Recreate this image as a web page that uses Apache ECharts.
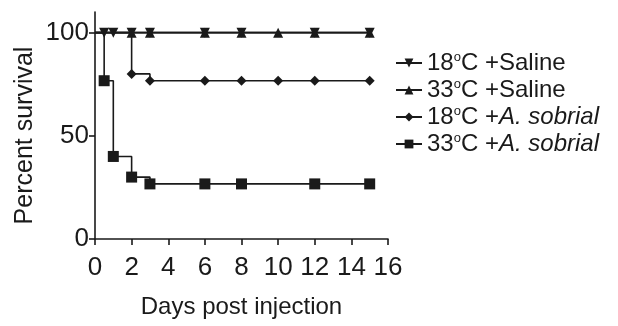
<!DOCTYPE html>
<html>
<head>
<meta charset="utf-8">
<script src="https://cdn.jsdelivr.net/npm/echarts@6/dist/echarts.min.js"></script>
<style>
  html, body { margin: 0; padding: 0; background: #fff; }
  #surv { width: 618px; height: 326px; }
</style>
</head>
<body>
<div id="surv"></div>
<script>
// survival data (step curves)
var xTicks = [0, 2, 4, 6, 8, 10, 12, 14, 16]
var yTicks = [0, 50, 100]

var days18Saline = [0, 0.5, 1, 2, 3, 6, 8, 12, 15]
var surv18Saline = [100, 100, 100, 100, 100, 100, 100, 100, 100]

var days33Saline = [0, 2, 3, 6, 8, 10, 12, 15]
var surv33Saline = [100, 100, 100, 100, 100, 100, 100, 100]

var days18Sob = [0, 2, 3, 6, 8, 10, 12, 15]
var surv18Sob = [100, 80, 76.7, 76.7, 76.7, 76.7, 76.7, 76.7]

var days33Sob = [0, 0.5, 1, 2, 3, 6, 8, 12, 15]
var surv33Sob = [100, 76.7, 40, 30, 26.7, 26.7, 26.7, 26.7, 26.7]

var names = ['18C Saline', '33C Saline', '18C sobrial', '33C sobrial']
var legendText = {
  '18C Saline': '18{sup|o}C +Saline',
  '33C Saline': '33{sup|o}C +Saline',
  '18C sobrial': '18{sup|o}C +{it|A. sobrial}',
  '33C sobrial': '33{sup|o}C +{it|A. sobrial}'
}

var FONT = "'Liberation Sans Narrow', 'Liberation Sans', Arial, sans-serif"
var INK = '#1a1a1a'

// first point (day 0) is only the start of the curve, no marker
function pts(days, vals) {
  return days.map(function(d, i) {
    if (i === 0) return { value: [d, vals[i]], symbol: 'none' }
    return [d, vals[i]]
  })
}

function curve(name, days, vals, symbol, size, rotate) {
  return {
    name: name,
    type: 'line',
    step: 'end',
    symbol: symbol,
    symbolSize: size,
    symbolRotate: rotate || 0,
    showAllSymbol: true,
    lineStyle: { color: INK, width: 1.6 },
    itemStyle: { color: INK },
    emphasis: { disabled: true },
    data: pts(days, vals)
  }
}

var myChart = echarts.init(document.getElementById('surv'))
myChart.setOption({
  animation: false,
  textStyle: { fontFamily: FONT, color: INK },
  grid: { left: 95, right: 230, top: 12, bottom: 87 },
  legend: {
    orient: 'vertical',
    left: 390,
    top: 46,
    itemGap: 3,
    itemWidth: 26,
    itemHeight: 11,
    data: names,
    formatter: function(name) {
      return legendText[name]
    },
    textStyle: {
      fontFamily: FONT,
      fontSize: 24,
      color: INK,
      rich: {
        sup: { fontSize: 13, fontFamily: FONT, color: INK, verticalAlign: 'bottom', padding: [0, 0, 11, 0] },
        it: { fontSize: 24, fontFamily: FONT, color: INK, fontStyle: 'italic' }
      }
    }
  },
  xAxis: {
    type: 'value',
    min: 0,
    max: 16,
    interval: 2,
    name: 'Days post injection',
    nameLocation: 'middle',
    nameGap: 56,
    nameTextStyle: { fontSize: 24, color: INK, fontFamily: FONT },
    splitLine: { show: false },
    axisLine: { lineStyle: { color: INK, width: 1.6 } },
    axisTick: { length: 6, lineStyle: { color: INK, width: 1.6 } },
    axisLabel: { fontSize: 26, color: INK, margin: 16, fontFamily: FONT, customValues: xTicks }
  },
  yAxis: {
    type: 'value',
    min: 0,
    max: 110,
    interval: 50,
    name: 'Percent survival',
    nameLocation: 'middle',
    nameGap: 57,
    nameTextStyle: { fontSize: 25, color: INK, fontFamily: FONT, padding: [0, 20, 0, 0] },
    splitLine: { show: false },
    axisLine: { show: true, lineStyle: { color: INK, width: 1.6 } },
    axisTick: { show: true, length: 6, lineStyle: { color: INK, width: 1.6 }, customValues: yTicks },
    axisLabel: { fontSize: 26, color: INK, margin: 6, fontFamily: FONT, customValues: yTicks }
  },
  series: [
    curve('33C sobrial', days33Sob, surv33Sob, 'rect', 11),
    curve('18C sobrial', days18Sob, surv18Sob, 'diamond', 10),
    curve('33C Saline', days33Saline, surv33Saline, 'triangle', 10),
    curve('18C Saline', days18Saline, surv18Saline, 'triangle', 10, 180)
  ]
})
</script>
</body>
</html>
